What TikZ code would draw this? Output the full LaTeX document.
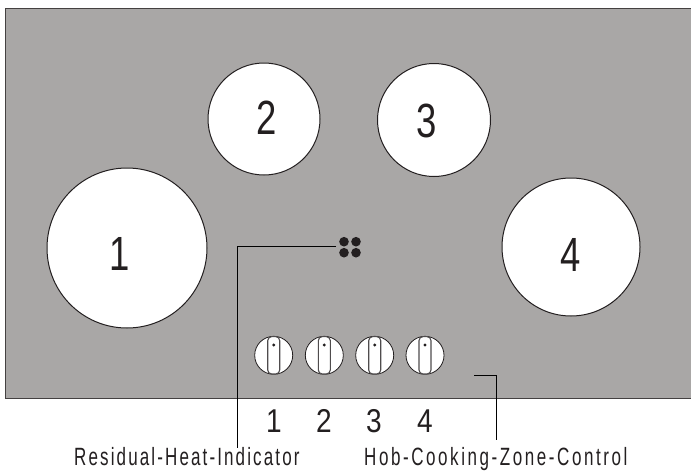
\documentclass[tikz,border=0pt]{standalone}
\usepackage{fontspec}
\setmainfont{Liberation Sans}
\newfontfamily\narrowlabel[FakeStretch=0.68,LetterSpace=8.5]{Liberation Sans}
\newfontfamily\narrowlabelb[FakeStretch=0.68,LetterSpace=10.3]{Liberation Sans}
\newfontfamily\narrowdigit[FakeStretch=0.76]{Liberation Sans}
\newfontfamily\knobdigit[FakeStretch=0.85]{Liberation Sans}
\definecolor{panelgrey}{HTML}{A9A7A6}
\definecolor{inkdark}{HTML}{231F20}
\tikzset{
  panel/.style={draw=inkdark!85!white,line width=0.9pt,fill=panelgrey},
  zone/.style={circle,draw=inkdark,line width=1pt,fill=white,inner sep=0pt,minimum size=#1},
  zonenum/.style={text=inkdark,font=\fontsize{48}{48}\selectfont\narrowdigit,inner sep=0pt},
  knobbody/.style={circle,draw=inkdark,line width=0.8pt,fill=white,inner sep=0pt,minimum size=38pt},
  heatdot/.style={circle,fill=inkdark,draw=none,inner sep=0pt,minimum size=9.6pt},
  leader/.style={draw=black,line width=0.8pt},
  knobnum/.style={text=inkdark,font=\fontsize{33}{33}\selectfont\knobdigit,inner sep=0pt,anchor=base},
  caption/.style={text=inkdark,inner sep=0pt,anchor=base west}
}
\begin{document}
\begin{tikzpicture}[x=1pt,y=-1pt]
\useasboundingbox (0,0) rectangle (691,471);
\fill[white] (0,0) rectangle (691,471);
\draw[panel] (5,8) -- (695,8) -- (695,398) -- (5,398) -- cycle;
\node[zone=160pt] (z1) at (127,248) {};
\node[zone=112pt] (z2) at (264,119) {};
\node[zone=113pt] (z3) at (434,120) {};
\node[zone=138pt] (z4) at (571,247) {};
\node[zonenum] (n1) at (120,254) {1};
\node[zonenum] (n2) at (267,118) {2};
\node[zonenum] (n3) at (427,121) {3};
\node[zonenum] (n4) at (571,255) {4};
\foreach \nm/\x in {a/273.7,b/324.3,c/374.7,d/425}{
  \node[knobbody] (k\nm) at (\x,355.3) {};
  \draw[draw=inkdark!80!white,line width=1.1pt,fill=white,rounded corners=4pt] (\x-6,336.6) rectangle (\x+6,374);
  \node[circle,fill=inkdark,inner sep=0pt,minimum size=3.2pt] (p\nm) at (\x,345) {};
}
\node[heatdot] (h1) at (344,241.7) {};
\node[heatdot] (h2) at (356,241.7) {};
\node[heatdot] (h3) at (344,252.7) {};
\node[heatdot] (h4) at (356,252.7) {};
\coordinate (heatend) at (336,246);
\coordinate (heatcorner) at (237.5,246);
\node[caption,font=\fontsize{25}{25}\selectfont\narrowlabel] (capa) at (74,465.5) {Residual-Heat-Indicator};
\node[caption,font=\fontsize{25}{25}\selectfont\narrowlabelb] (capb) at (364,465.5) {Hob-Cooking-Zone-Control};
\coordinate (heatfoot) at (237.5,447.5);
\coordinate (ctrlstart) at (474,375);
\coordinate (ctrlcorner) at (496.5,375);
\coordinate (ctrlfoot) at (496.5,439.5);
\draw[leader] (heatend) -- (heatcorner) -- (heatfoot);
\draw[leader] (ctrlstart) -- (ctrlcorner) -- (ctrlfoot);
\node[knobnum] (m1) at (274,432.5) {1};
\node[knobnum] (m2) at (324,432.5) {2};
\node[knobnum] (m3) at (374,432.5) {3};
\node[knobnum] (m4) at (425,432.5) {4};
\end{tikzpicture}
\end{document}
